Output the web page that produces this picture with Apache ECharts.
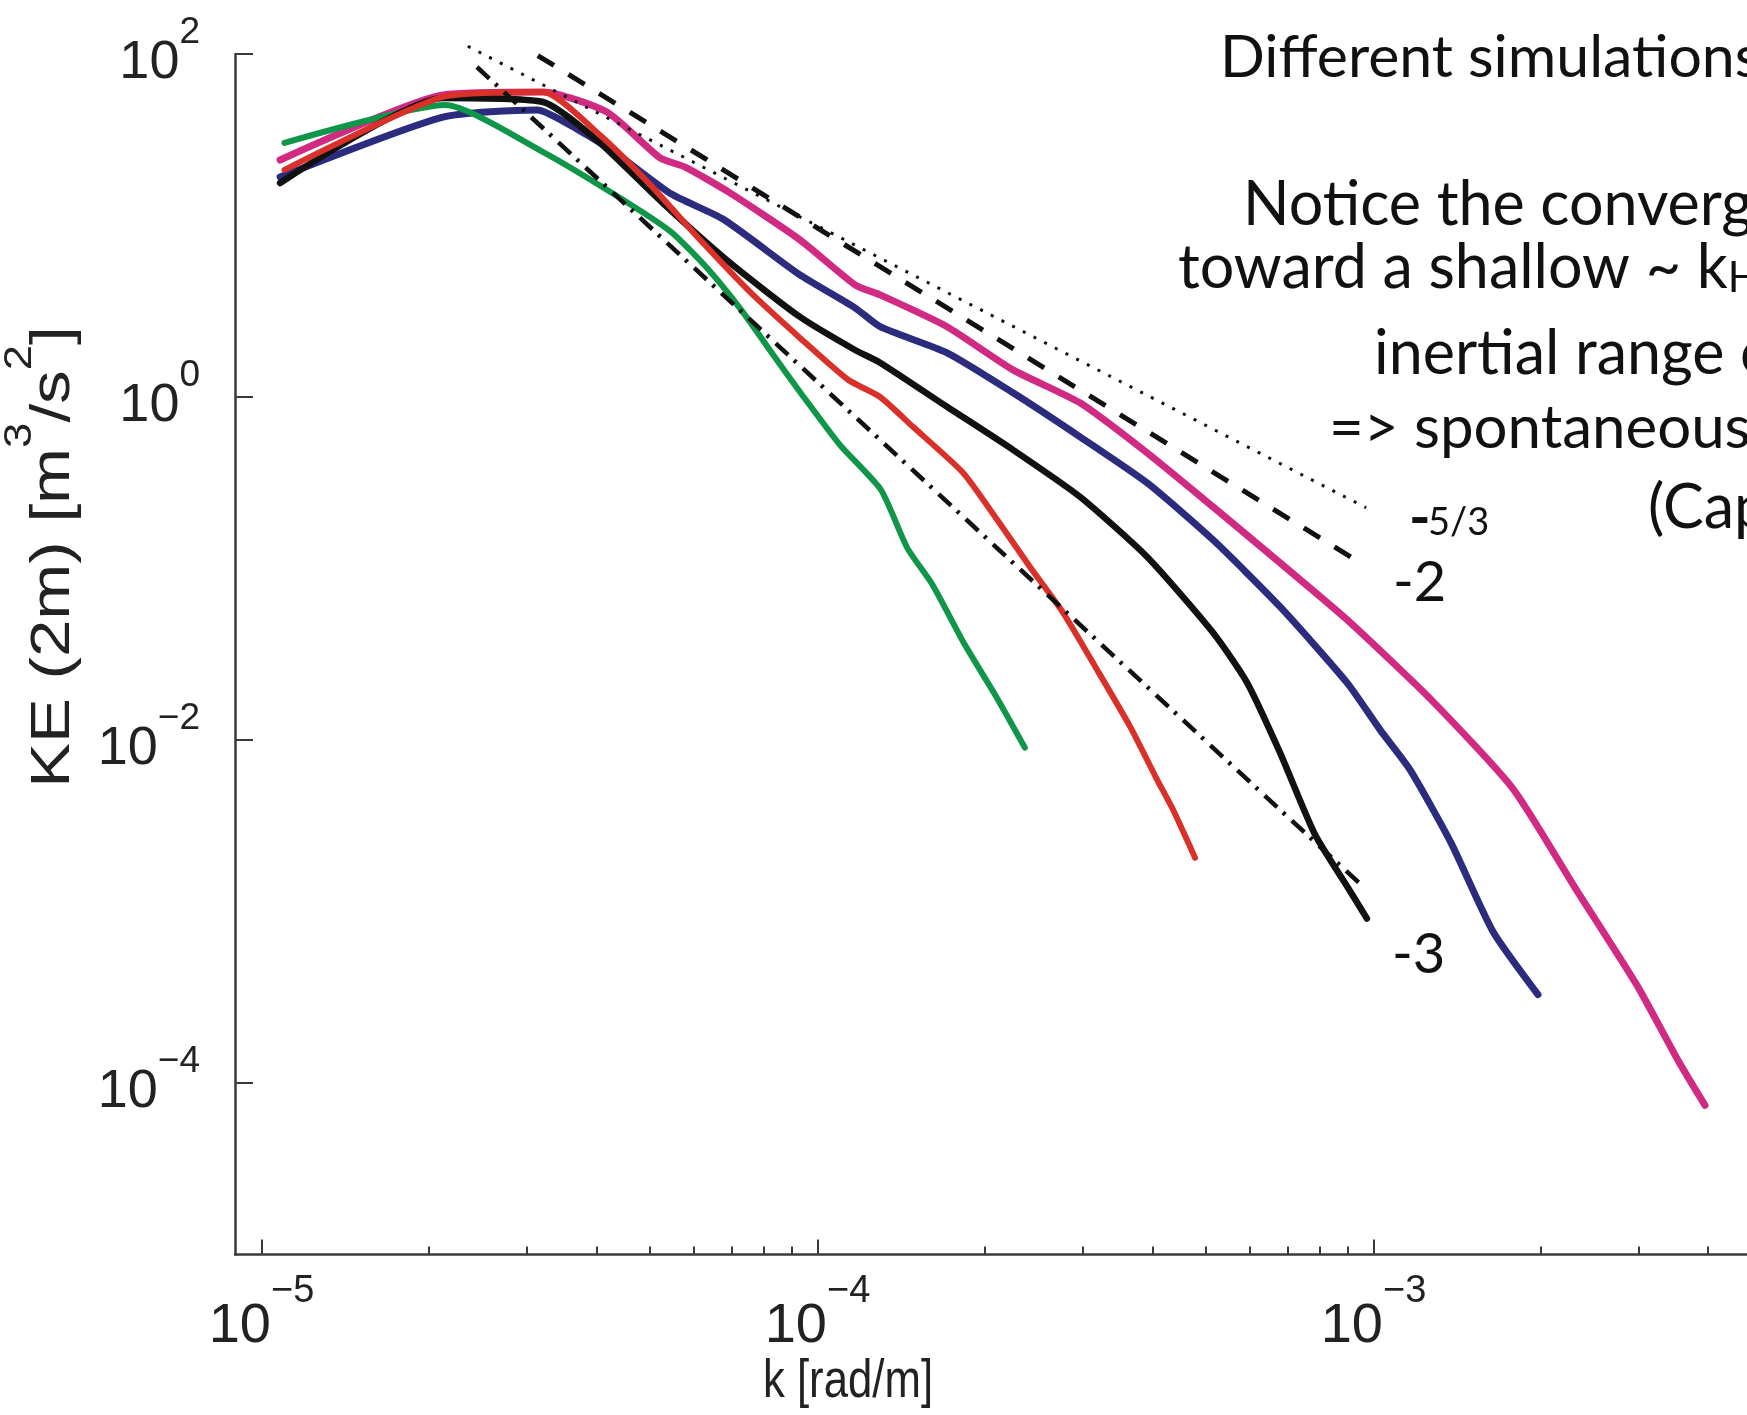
<!DOCTYPE html>
<html>
<head>
<meta charset="utf-8">
<script src="https://cdn.jsdelivr.net/npm/echarts@6/dist/echarts.min.js"></script>
<style>
html,body{margin:0;padding:0;background:#ffffff;}
#chart{width:1747px;height:1415px;}
</style>
</head>
<body>
<div id="chart"></div>
<script>
// ---- data: [k (rad/m), KE (m^3/s^2)] ----
const greenData = [[1.10e-5,30.3],[2.14e-5,50.4],[3.21e-5,26.8],[4.38e-5,14.7],[5.45e-5,9.18],[6.30e-5,5.74],[7.29e-5,3.22],[8.42e-5,1.67],[9.30e-5,1.07],[1.097e-4,0.526],[1.30e-4,0.288],[1.45e-4,0.132],[1.61e-4,0.0804],[1.84e-4,0.036],[2.10e-4,0.0177],[2.36e-4,0.00903]];
const redData = [[1.10e-5,21.1],[2.12e-5,56.2],[3.21e-5,60.1],[4.06e-5,33.7],[5.00e-5,17.3],[6.15e-5,8.25],[7.56e-5,4.10],[9.30e-5,2.21],[1.135e-4,1.26],[1.296e-4,1.00],[1.485e-4,0.670],[1.827e-4,0.362],[2.103e-4,0.193],[2.411e-4,0.102],[2.764e-4,0.0553],[3.182e-4,0.0257],[3.648e-4,0.0120],[4.08e-4,0.00588],[4.358e-4,0.00393],[4.775e-4,0.00206]];
const blackData = [[1.08e-5,17.7],[2.12e-5,55.4],[3.21e-5,52.5],[4.01e-5,31.5],[5.27e-5,13.5],[6.96e-5,6.06],[9.30e-5,2.93],[1.168e-4,1.88],[1.296e-4,1.585],[1.71e-4,0.877],[2.247e-4,0.492],[2.965e-4,0.262],[3.914e-4,0.117],[5.143e-4,0.0423],[5.923e-4,0.0216],[6.789e-4,0.00844],[7.848e-4,0.00281],[8.99e-4,0.00138],[9.73e-4,0.00091]];
const blueData = [[1.08e-5,19.2],[2.12e-5,42.9],[3.13e-5,47.2],[3.74e-5,35.6],[4.38e-5,25.8],[5.45e-5,15.3],[6.76e-5,10.9],[9.30e-5,5.15],[1.168e-4,3.31],[1.296e-4,2.57],[1.71e-4,1.81],[2.247e-4,1.058],[2.965e-4,0.586],[3.914e-4,0.316],[5.143e-4,0.147],[6.789e-4,0.0599],[8.96e-4,0.0216],[1.027e-3,0.0115],[1.163e-3,0.00672],[1.378e-3,0.00252],[1.64e-3,0.000765],[1.976e-3,0.000328]];
const pinkData = [[1.08e-5,24.1],[2.12e-5,57.7],[3.21e-5,60.1],[4.18e-5,45.9],[5.21e-5,24.8],[5.78e-5,21.9],[6.96e-5,15.5],[9.30e-5,8.25],[1.168e-4,4.51],[1.296e-4,3.94],[1.71e-4,2.57],[2.247e-4,1.44],[2.965e-4,0.925],[3.914e-4,0.473],[5.143e-4,0.229],[6.789e-4,0.108],[8.96e-4,0.0503],[1.269e-3,0.0172],[1.781e-3,0.00521],[2.303e-3,0.00138],[2.978e-3,0.000371],[3.537e-3,0.000134],[3.947e-3,0.0000741]];

// reference slope lines (end points)
const slope53Data = [[2.35e-5,111],[9.7e-4,0.226]];
const slope2Data  = [[3.14e-5,98],[9.42e-4,0.109]];
const slope3Data  = [[2.44e-5,84],[9.46e-4,0.00145]];

// axes
const X_MIN = 8.96e-6, X_MAX = 1e-2;
const Y_MIN = 1e-5, Y_MAX = 1e2;
const xMajorTicks = [1e-5, 1e-4, 1e-3, 1e-2];
const xMinorTicks = [];
[1e-5, 1e-4, 1e-3].forEach(function (d) { for (let m = 2; m <= 9; m++) xMinorTicks.push(m * d); });
const yTicks = [1e-4, 1e-2, 1, 1e2];

const TICK_FONT = 'Liberation Sans, Arial, Helvetica, sans-serif';
const NOTE_FONT = 'Lato, "Open Sans", sans-serif';
const AXIS_COLOR = '#3a3a3a';

function powLabel(v) {
  const e = Math.round(Math.log10(v));
  const s = e < 0 ? '\u2212' + (-e) : String(e);
  return '{b|10}{s|' + s + '}';
}
function labelRich(size, supLH, supPad) {
  return {
    b: {fontSize: size, fontFamily: TICK_FONT, color: '#222', lineHeight: 90, verticalAlign: 'bottom'},
    s: {fontSize: Math.round(size * 0.68), fontFamily: TICK_FONT, color: '#222', lineHeight: supLH, verticalAlign: 'top', padding: [supPad, 0, 0, 0]}
  };
}

const chart = echarts.init(document.getElementById('chart'), null, {renderer: 'canvas'});

function curve(data, color, width) {
  return {type: 'line', data: data, xAxisIndex: 0, yAxisIndex: 0, showSymbol: false, symbol: 'none',
    smooth: 0.2, animation: false,
    lineStyle: {color: color, width: width, cap: 'round', join: 'round'}};
}
function refLine(data, dash, width) {
  return {type: 'line', data: data, xAxisIndex: 0, yAxisIndex: 0, showSymbol: false, symbol: 'none',
    clip: false, animation: false,
    lineStyle: {color: '#111', width: width, type: dash, cap: 'butt'}};
}

const noteStyle = function (text, size, weight) {
  return {text: text, fontSize: size, fontFamily: NOTE_FONT, fontWeight: weight || 'normal', fill: '#111', align: 'left', verticalAlign: 'middle'};
};

chart.setOption({
  backgroundColor: '#ffffff',
  animation: false,
  grid: {left: 235, top: 54, width: 1694.5, height: 1200.5, containLabel: false, outerBoundsMode: 'none'},
  xAxis: [
    {type: 'log', logBase: 10, min: X_MIN, max: X_MAX, position: 'bottom', gridIndex: 0,
      axisLine: {show: true, onZero: false, lineStyle: {color: AXIS_COLOR, width: 2.5}},
      axisTick: {show: true, inside: true, length: 15, customValues: xMajorTicks, lineStyle: {color: AXIS_COLOR, width: 2}},
      axisLabel: {show: true, customValues: xMajorTicks, formatter: powLabel, margin: 10, rich: labelRich(56, 72, 8)},
      splitLine: {show: false}, minorTick: {show: false}},
    {type: 'log', logBase: 10, min: X_MIN, max: X_MAX, position: 'bottom', gridIndex: 0,
      axisLine: {show: false, onZero: false},
      axisTick: {show: true, inside: true, length: 8, customValues: xMinorTicks, lineStyle: {color: AXIS_COLOR, width: 2}},
      axisLabel: {show: false},
      splitLine: {show: false}}
  ],
  yAxis: [
    {type: 'log', logBase: 10, min: Y_MIN, max: Y_MAX, position: 'left',
      axisLine: {show: true, onZero: false, lineStyle: {color: AXIS_COLOR, width: 2.5}},
      axisTick: {show: true, inside: true, length: 18, customValues: yTicks, lineStyle: {color: AXIS_COLOR, width: 2}},
      axisLabel: {show: true, customValues: yTicks, formatter: powLabel, margin: 35, padding: [0, 0, 18, 0], rich: labelRich(54, 56, 14)},
      splitLine: {show: false}, minorTick: {show: false}}
  ],
  series: [
    curve(blueData, '#2b2c7e', 7),
    curve(pinkData, '#d02a82', 7),
    curve(greenData, '#109648', 6),
    curve(blackData, '#111111', 6.5),
    curve(redData, '#d9302a', 6),
    refLine(slope53Data, [3, 9], 3),
    refLine(slope2Data, [19, 17], 5),
    refLine(slope3Data, [17, 8, 3, 9], 4.5)
  ],
  graphic: [
    {type: 'text', x: 848, y: 1382, scaleX: 0.81, style: {text: 'k [rad/m]', fontSize: 54,
      fontFamily: TICK_FONT, fill: '#222', align: 'center', verticalAlign: 'middle'}},
    {type: 'text', x: 42, y: 557, rotation: Math.PI / 2, scaleX: 1.2, style: {
      text: '{a|KE (2m) [m}{s|3}{a|/s}{s|2}{a|]}', align: 'center', verticalAlign: 'middle', fill: '#222',
      rich: {
        a: {fontSize: 56, fontFamily: TICK_FONT, lineHeight: 80, verticalAlign: 'bottom'},
        s: {fontSize: 38, fontFamily: TICK_FONT, lineHeight: 34, verticalAlign: 'top'}
      }}},
    {type: 'text', x: 1220, y: 58, style: noteStyle('Different simulations', 59)},
    {type: 'text', x: 1243, y: 205, style: noteStyle('Notice the converg', 61)},
    {type: 'text', x: 1178, y: 267, style: {
      text: '{m|toward a shallow ~ k}{h|H}', align: 'left', verticalAlign: 'middle', fill: '#111',
      rich: {
        m: {fontSize: 61, fontFamily: NOTE_FONT, lineHeight: 64, verticalAlign: 'bottom'},
        h: {fontSize: 42, fontFamily: NOTE_FONT, lineHeight: 48, verticalAlign: 'bottom'}
      }}},
    {type: 'text', x: 1374, y: 354, style: noteStyle('inertial range o', 61)},
    {type: 'text', x: 1329, y: 429, style: noteStyle('=> spontaneous', 60)},
    {type: 'text', x: 1648, y: 508, style: noteStyle('(Cap', 61)},
    {type: 'text', x: 1409, y: 518, style: noteStyle('-', 58, 'bold')},
    {type: 'text', x: 1428, y: 523, style: noteStyle('5/3', 38)},
    {type: 'text', x: 1393, y: 583, style: noteStyle('-2', 56)},
    {type: 'text', x: 1392, y: 955, style: noteStyle('-3', 56)}
  ]
});
</script>
</body>
</html>
